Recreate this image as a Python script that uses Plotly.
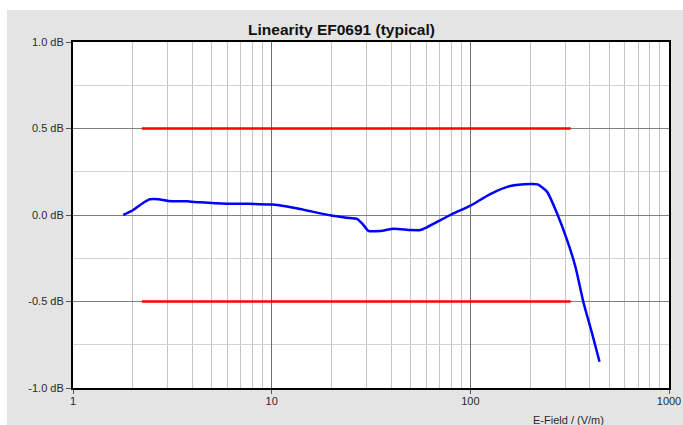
import plotly.graph_objects as go

# Measured curve (E-field in V/m, deviation in dB)
field = [1.79, 2.01, 2.26, 2.44, 2.69, 3.02, 3.74, 4.36, 5.95, 7.50, 10.1, 11.5, 13.9,
         19.7, 23.9, 26.9, 29.0, 30.7, 35.2, 41.1, 49.9, 56.0, 60.5, 79.3, 100,
         126, 159, 201, 218, 243, 273, 307, 338, 372, 410, 447]
linearity = [0.0, 0.029, 0.071, 0.091, 0.091, 0.081, 0.079, 0.073, 0.065, 0.065, 0.060, 0.052, 0.035,
             -0.002, -0.016, -0.023, -0.058, -0.092, -0.092, -0.079, -0.087, -0.087, -0.071, 0.0, 0.054,
             0.121, 0.168, 0.179, 0.177, 0.135, 0.010, -0.145, -0.299, -0.510, -0.684, -0.848]

# Tolerance limits
limit_field = [2.22, 320]
upper_limit = [0.5, 0.5]
lower_limit = [-0.5, -0.5]

y_ticks = [-1.0, -0.5, 0.0, 0.5, 1.0]
y_ticklabels = ["-1.0 dB", "-0.5 dB", "0.0 dB", "0.5 dB", "1.0 dB"]
x_ticks = [1, 10, 100, 1000]
x_ticklabels = ["1", "10", "100", "1000"]

fig = go.Figure()
fig.add_trace(go.Scatter(x=limit_field, y=upper_limit, mode="lines",
                         line=dict(color="#ff0000", width=2.5), showlegend=False))
fig.add_trace(go.Scatter(x=limit_field, y=lower_limit, mode="lines",
                         line=dict(color="#ff0000", width=2.5), showlegend=False))
fig.add_trace(go.Scatter(x=field, y=linearity, mode="lines",
                         line=dict(color="#0000ff", width=2.5, shape="spline", smoothing=0.6),
                         showlegend=False))

font_family = "Liberation Sans, Arial, sans-serif"

fig.update_layout(
    width=683, height=425,
    margin=dict(l=73, r=14, t=42, b=37, autoexpand=False),
    paper_bgcolor="white",
    plot_bgcolor="white",
    font=dict(family=font_family, size=11, color="#2a2a2a"),
    title=dict(text="<b>Linearity EF0691 (typical)</b>", x=0.5, xref="container",
               xanchor="center", y=1 - 30 / 425, yref="container", yanchor="middle",
               font=dict(family=font_family, size=15.5, color="#111111")),
    shapes=[
        dict(type="rect", xref="paper", yref="paper", layer="below",
             x0=(7 - 73) / 596, x1=(690 - 73) / 596, y0=(388 - 430) / 346, y1=(388 - 10) / 346,
             fillcolor="#e4e4e4", line=dict(width=0)),
        dict(type="rect", xref="paper", yref="paper", layer="below",
             x0=0, x1=1, y0=0, y1=1, fillcolor="white", line=dict(width=0)),
    ],
    annotations=[
        dict(text="E-Field / (V/m)", xref="paper", yref="paper",
             x=(606 - 73) / 596, y=(388 - 420) / 346, xanchor="right", yanchor="middle",
             showarrow=False, font=dict(family=font_family, size=11, color="#2a2a2a")),
    ],
)

fig.update_xaxes(
    type="log", range=[0, 3], automargin=False,
    tickvals=x_ticks, ticktext=x_ticklabels,
    showgrid=True, gridcolor="#707070", gridwidth=1,
    minor=dict(dtick="D1", showgrid=True, gridcolor="#c4c4c4", ticks=""),
    showline=True, linecolor="black", linewidth=2, mirror=True,
    ticks="outside", ticklen=4, tickcolor="#555555",
    ticklabelstandoff=-2, zeroline=False,
)
fig.update_yaxes(
    range=[-1, 1], tickvals=y_ticks, ticktext=y_ticklabels, automargin=False,
    showgrid=True, gridcolor="#808080", gridwidth=1,
    minor=dict(dtick=0.25, showgrid=True, gridcolor="#d4d4d4", ticks=""),
    showline=True, linecolor="black", linewidth=2, mirror=True,
    ticks="outside", ticklen=5, tickcolor="#555555",
    zeroline=False,
)

fig.write_html("out.html", config={"displayModeBar": False},
               post_script="document.body.style.margin='0';document.body.style.overflow='hidden';")
